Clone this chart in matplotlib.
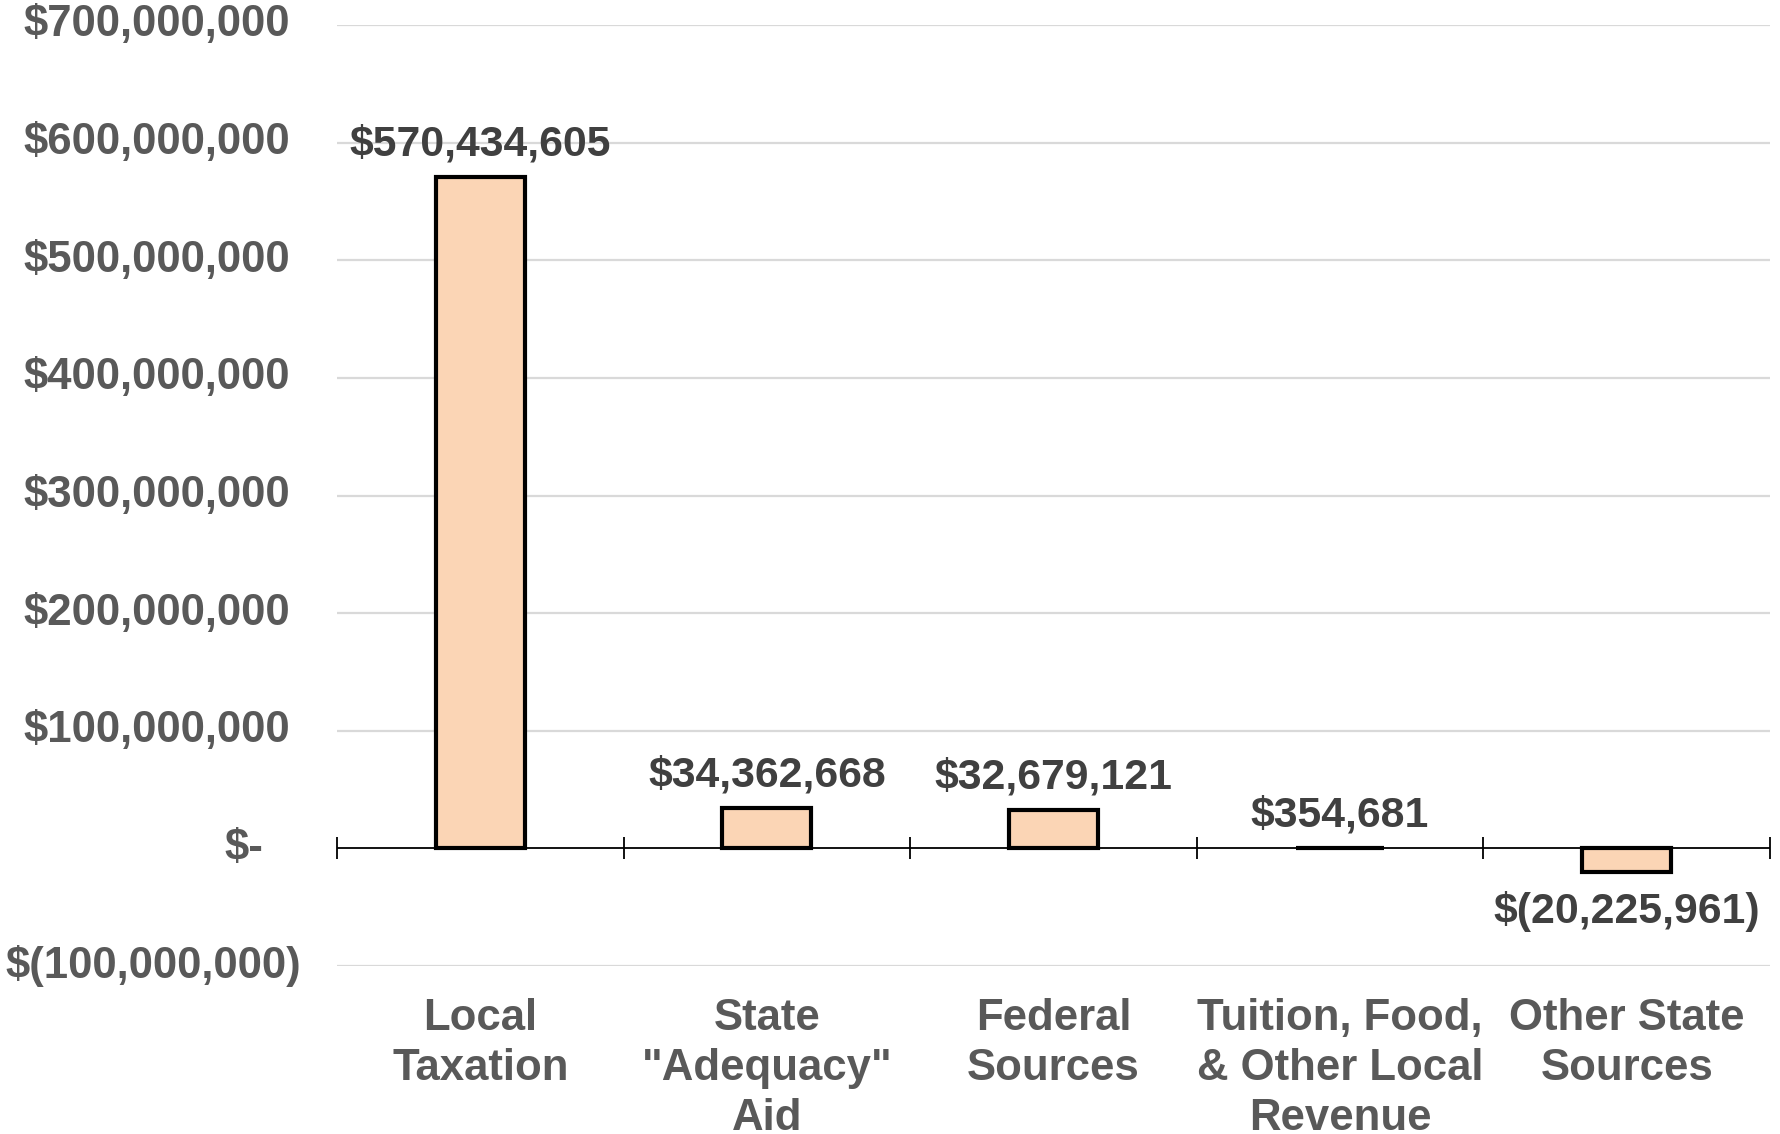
"""Revenue change by source, bar chart with accounting-style dollar labels."""

import matplotlib

matplotlib.use("Agg")
import matplotlib.pyplot as plt
import matplotlib.ticker as mticker

CATEGORIES = [
    "Local\nTaxation",
    "State\n\"Adequacy\"\nAid",
    "Federal\nSources",
    "Tuition, Food,\n& Other Local\nRevenue",
    "Other State\nSources",
]
VALUES = [570434605, 34362668, 32679121, 354681, -20225961]
Y_TICKS = [-100_000_000, 0, 100_000_000, 200_000_000, 300_000_000,
           400_000_000, 500_000_000, 600_000_000, 700_000_000]

BAR_COLOR = "#FBD5B5"
AXIS_TEXT = "#595959"
LABEL_TEXT = "#404040"
GRID_COLOR = "#D9D9D9"
FONT = ["Liberation Sans", "DejaVu Sans"]
FONT_SIZE = 31.5
VALUE_FONT_SIZE = 30.8


def accounting(value: float) -> str:
    if value == 0:
        return "$-"
    if value < 0:
        return f"$({abs(value):,.0f})"
    return f"${value:,.0f}"


def main() -> None:
    plt.rcParams["font.family"] = FONT
    fig = plt.figure(figsize=(17.81, 11.34), dpi=100)
    ax = fig.add_axes([0.1892, 0.1481, 0.8046, 0.8299])

    x = list(range(len(CATEGORIES)))
    ax.bar(x, VALUES, width=0.31, color=BAR_COLOR, edgecolor="black",
           linewidth=3.0, zorder=3)

    ax.set_xlim(-0.5, len(CATEGORIES) - 0.5)
    ax.set_ylim(Y_TICKS[0], Y_TICKS[-1])

    # gridlines everywhere except zero, which gets the black axis line
    for t in Y_TICKS:
        if t != 0:
            ax.axhline(t, color=GRID_COLOR, linewidth=1.6, zorder=0)
    ax.axhline(0, color="black", linewidth=1.3, zorder=2)

    for side in ["left", "right", "top", "bottom"]:
        ax.spines[side].set_visible(False)

    # category boundary tick marks on the zero line
    ax.spines["bottom"].set_position(("data", 0))
    ax.xaxis.set_major_locator(mticker.FixedLocator([i - 0.5 for i in range(len(CATEGORIES) + 1)]))
    ax.tick_params(axis="x", direction="inout", length=16, width=1.3,
                   color="black", labelbottom=False)
    ax.tick_params(axis="y", length=0, labelleft=False)
    ax.set_yticks(Y_TICKS)

    # y labels, accounting format: positives leave room for ")"
    for t in Y_TICKS:
        if t == 0:
            dx = -53
        elif t < 0:
            dx = -26
        else:
            dx = -34
        ax.annotate(accounting(t), xy=(0, t), xycoords=("axes fraction", "data"),
                    xytext=(dx, 0), textcoords="offset points",
                    ha="right", va="center", fontsize=FONT_SIZE,
                    fontweight="bold", color=AXIS_TEXT)

    for i, name in enumerate(CATEGORIES):
        ax.annotate(name, xy=(i, 0), xycoords=("data", "axes fraction"),
                    xytext=(0, -23), textcoords="offset points",
                    ha="center", va="top", fontsize=FONT_SIZE,
                    fontweight="bold", color=AXIS_TEXT, linespacing=1.28,
                    annotation_clip=False)

    for i, v in enumerate(VALUES):
        offset = 23.5 if v >= 0 else -28
        ax.annotate(accounting(v), xy=(i, v), xytext=(0, offset),
                    textcoords="offset points", ha="center", va="center",
                    fontsize=VALUE_FONT_SIZE, fontweight="bold", color=LABEL_TEXT)

    fig.savefig("out.png", dpi=100, facecolor="white")
    plt.close(fig)


if __name__ == "__main__":
    main()
